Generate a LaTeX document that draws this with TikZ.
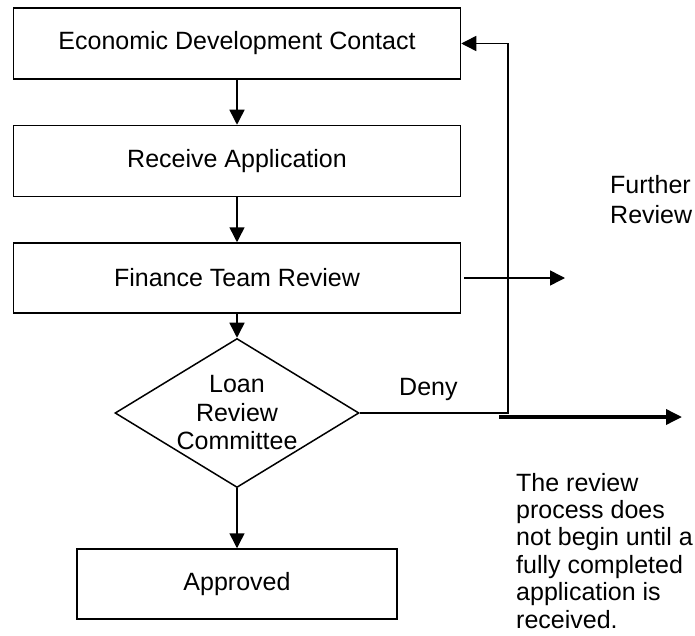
\documentclass[tikz,border=0pt]{standalone}
\usepackage{fontspec}
\setmainfont{Liberation Sans}
\usetikzlibrary{shapes.geometric,arrows.meta}
\begin{document}
\begin{tikzpicture}[x=1pt,y=-1pt,
  every node/.style={font=\fontsize{25}{29}\selectfont},
  box/.style={draw, line width=1.5pt, minimum width=447pt, minimum height=71pt, inner sep=0pt},
  decide/.style={draw, diamond, line width=1.5pt, minimum width=244pt, minimum height=149pt, inner sep=0pt},
  txt/.style={inner sep=0pt, anchor=base west, align=left},
  flow/.style={line width=1.5pt, -{Triangle[length=15pt,width=15pt]}},
  bigflow/.style={line width=3.5pt, -{Triangle[length=16pt,width=15pt]}}]
\useasboundingbox (0,0) rectangle (695,636);
% main column
\node[box] (contact) at (237,43.5) {Economic Development Contact};
\node[box] (receive) at (237,161) {Receive Application};
\node[box, minimum height=70pt] (finance) at (237,278) {Finance Team Review};
\node[decide, label={[align=center, font=\fontsize{25}{28.5}\selectfont]center:Loan\\Review\\Committee}] (committee) at (237,413) {};
\node[box, minimum width=320pt, minimum height=70pt] (approved) at (237,584) {Approved};
% side texts (base = last line)
\node[txt] (deny) at (399,395) {Deny};
\node[txt, font=\fontsize{25}{30}\selectfont] (further) at (610,223) {Further\\Review};
\node[txt, font=\fontsize{25}{27.4}\selectfont] (note) at (516,628) {The review\\process does\\not begin until a\\fully completed\\application is\\received.};
\coordinate (turn) at (508,413);
\coordinate (furtherend) at (565,278);
\coordinate (denystart) at (499,417);
\coordinate (denyend) at (682,417);
% connectors
\draw[flow] (contact) -- (receive);
\draw[flow] (receive) -- (finance);
\draw[flow] (finance) -- (committee);
\draw[flow] (committee) -- (approved);
\draw[flow] ([xshift=3pt]finance.east) -- (furtherend);
\draw[flow] (committee.east) -- (turn) |- (contact.east);
\draw[bigflow] (denystart) -- (denyend);
\end{tikzpicture}
\end{document}
